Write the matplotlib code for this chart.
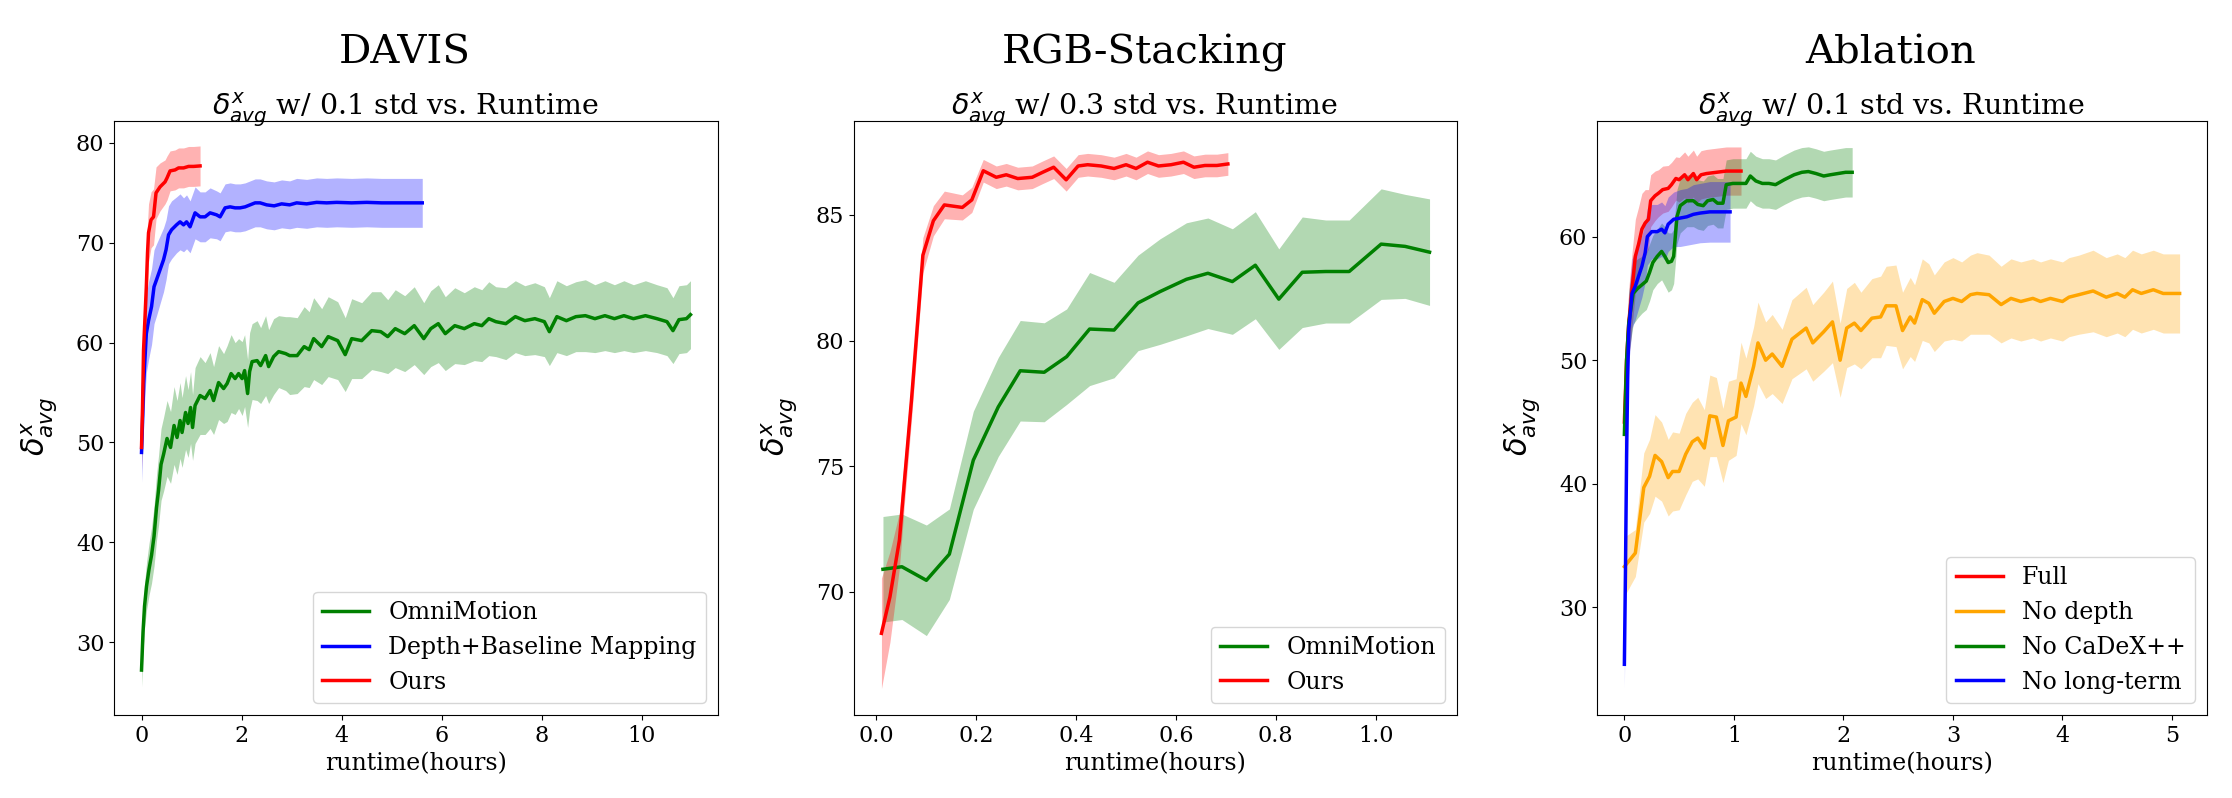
import matplotlib
matplotlib.use("Agg")
import matplotlib.pyplot as plt
import numpy as np

plt.rcParams['font.family'] = ['DejaVu Serif', 'DejaVu Sans']

# ---------------- DAVIS ----------------
davis_omni_x = [0.00, 0.03, 0.06, 0.10, 0.15, 0.20, 0.25, 0.30, 0.34, 0.39, 0.44, 0.51, 0.58, 0.65, 0.71,
                0.77, 0.81, 0.88, 0.93, 0.98, 1.02, 1.07, 1.17, 1.27, 1.37, 1.44, 1.54, 1.64, 1.71, 1.79,
                1.87, 1.94, 2.01, 2.06, 2.12, 2.16, 2.21, 2.31, 2.38, 2.48, 2.54, 2.64, 2.74, 2.88, 2.96,
                3.11, 3.25, 3.35, 3.44, 3.60, 3.73, 3.92, 4.07, 4.20, 4.40, 4.60, 4.78, 4.92, 5.07, 5.26,
                5.45, 5.64, 5.78, 5.93, 6.07, 6.26, 6.45, 6.65, 6.80, 6.94, 7.08, 7.28, 7.47, 7.66, 7.86,
                8.05, 8.15, 8.30, 8.49, 8.68, 8.87, 9.06, 9.26, 9.45, 9.64, 9.83, 10.07, 10.30, 10.50,
                10.62, 10.74, 10.89, 10.97]
davis_omni_y = [27.2, 31.0, 33.6, 35.6, 37.3, 38.7, 40.6, 43.5, 45.2, 47.8, 48.8, 50.4, 49.5, 51.7, 50.5,
                52.2, 51.0, 53.0, 51.9, 53.5, 51.5, 53.7, 54.7, 54.4, 55.2, 54.2, 56.0, 55.4, 55.9, 56.9,
                56.4, 56.9, 56.4, 57.2, 54.9, 57.1, 58.1, 58.2, 57.7, 58.7, 57.6, 58.6, 59.1, 58.9, 58.7,
                58.7, 59.6, 59.3, 60.4, 59.6, 60.6, 60.2, 58.8, 60.4, 60.2, 61.2, 61.1, 60.6, 61.4, 60.9,
                61.7, 60.4, 61.4, 61.9, 60.9, 61.7, 61.4, 61.9, 61.7, 62.4, 62.1, 61.9, 62.6, 62.2, 62.4,
                62.1, 61.1, 62.6, 62.2, 62.6, 62.7, 62.4, 62.7, 62.4, 62.7, 62.4, 62.7, 62.4, 62.1,
                61.2, 62.3, 62.4, 62.8]
davis_omni_s = [1.7, 2.0, 2.2, 2.4, 2.6, 2.8, 3.0, 3.3, 3.5, 3.6, 3.7, 3.8, 3.6, 3.9, 3.7,
                3.8, 3.5, 3.7, 3.4, 3.6, 3.3, 3.8, 3.9, 3.6, 3.8, 3.4, 3.7, 3.5, 3.8, 3.9,
                3.6, 3.5, 3.7, 3.6, 3.4, 3.9, 3.8, 4.0, 3.8, 4.0, 3.7, 3.8, 3.6, 3.7, 3.9,
                3.8, 4.0, 3.8, 4.1, 3.8, 4.0, 3.9, 3.7, 4.0, 3.8, 3.9, 4.0, 3.7, 3.9, 3.8,
                3.9, 3.6, 3.8, 3.9, 3.7, 3.8, 3.6, 3.7, 3.6, 3.7, 3.5, 3.6, 3.6, 3.5, 3.6,
                3.5, 3.4, 3.6, 3.5, 3.5, 3.6, 3.4, 3.5, 3.4, 3.5, 3.4, 3.5, 3.4, 3.4,
                3.3, 3.4, 3.4, 3.4]

davis_base_x = [0.0, 0.02, 0.043, 0.07, 0.096, 0.14, 0.20, 0.25, 0.30, 0.37, 0.44, 0.49, 0.54, 0.60, 0.70,
                0.77, 0.84, 0.90, 0.97, 1.07, 1.17, 1.27, 1.37, 1.50, 1.57, 1.67, 1.77, 1.87, 1.97, 2.07,
                2.17, 2.27, 2.37, 2.50, 2.65, 2.80, 2.96, 3.10, 3.30, 3.50, 3.70, 3.90, 4.20, 4.50, 4.80,
                5.10, 5.40, 5.61]
davis_base_y = [49.0, 52.0, 55.9, 58.5, 60.9, 62.2, 63.6, 65.6, 66.3, 67.3, 68.3, 69.3, 70.8, 71.3, 71.8,
                72.1, 71.8, 72.1, 71.6, 73.0, 72.6, 72.6, 73.0, 72.8, 72.6, 73.5, 73.6, 73.5, 73.5, 73.6,
                73.8, 74.0, 74.0, 73.8, 73.7, 73.9, 73.8, 74.0, 73.9, 74.05, 74.0, 74.05, 74.0, 74.05, 74.0,
                74.0, 74.0, 74.0]
davis_base_s = [3.0, 3.2, 3.5, 3.7, 3.9, 3.9, 3.8, 3.7, 3.6, 3.4, 3.2, 3.0, 2.9, 2.9, 2.8,
                2.8, 2.7, 2.7, 2.6, 2.6, 2.5, 2.5, 2.5, 2.4, 2.4, 2.4, 2.4, 2.4, 2.4, 2.4,
                2.4, 2.4, 2.4, 2.4, 2.4, 2.4, 2.4, 2.45, 2.45, 2.45, 2.45, 2.45, 2.45, 2.45, 2.45,
                2.45, 2.45, 2.45]

davis_ours_x = [0.0, 0.02, 0.04, 0.07, 0.096, 0.12, 0.14, 0.19, 0.24, 0.29, 0.37, 0.47, 0.51, 0.57, 0.67,
                0.74, 0.84, 0.94, 1.04, 1.17]
davis_ours_y = [49.5, 53.5, 59.2, 62.6, 65.6, 69.0, 71.0, 72.3, 72.6, 75.0, 75.6, 76.1, 76.5, 77.2, 77.3,
                77.5, 77.5, 77.65, 77.65, 77.7]
davis_ours_s = [2.2, 2.5, 2.8, 3.0, 3.0, 3.0, 2.9, 2.8, 2.8, 2.6, 2.4, 2.2, 2.2, 2.0, 2.0,
                2.0, 2.0, 2.0, 2.0, 2.0]

# ---------------- RGB-Stacking ----------------
rgb_omni_x = [0.013, 0.051, 0.100, 0.146, 0.194, 0.244, 0.288, 0.336, 0.381, 0.427, 0.476, 0.524,
              0.568, 0.621, 0.664, 0.713, 0.759, 0.806, 0.853, 0.900, 0.947, 1.011, 1.059, 1.108]
rgb_omni_y = [70.9, 71.0, 70.46, 71.5, 75.24, 77.36, 78.8, 78.74, 79.36, 80.46, 80.42, 81.5,
              81.95, 82.44, 82.68, 82.35, 83.0, 81.65, 82.72, 82.75, 82.75, 83.84, 83.75, 83.52]
rgb_omni_s = [2.1, 2.1, 2.2, 1.8, 1.95, 1.97, 2.0, 1.97, 1.9, 2.25, 1.9, 1.9,
              2.1, 2.25, 2.2, 2.1, 2.13, 2.0, 2.2, 2.05, 2.05, 2.2, 2.07, 2.12]

rgb_ours_x = [0.010, 0.027, 0.046, 0.056, 0.070, 0.093, 0.114, 0.136, 0.172, 0.191, 0.214, 0.240,
              0.260, 0.283, 0.312, 0.333, 0.355, 0.380, 0.404, 0.423, 0.450, 0.476, 0.500, 0.520,
              0.543, 0.565, 0.590, 0.615, 0.636, 0.658, 0.682, 0.704]
rgb_ours_y = [68.35, 69.8, 72.06, 74.4, 77.6, 83.4, 84.77, 85.4, 85.3, 85.6, 86.76, 86.5,
              86.6, 86.45, 86.5, 86.7, 86.9, 86.4, 86.95, 87.0, 86.95, 86.85, 87.0, 86.85,
              87.1, 86.95, 87.0, 87.1, 86.9, 86.97, 86.97, 87.03]
rgb_ours_s = [2.2, 1.8, 1.1, 0.9, 0.8, 0.7, 0.6, 0.55, 0.5, 0.5, 0.45, 0.45,
              0.45, 0.45, 0.45, 0.45, 0.45, 0.45, 0.45, 0.45, 0.45, 0.45, 0.45, 0.45,
              0.45, 0.45, 0.45, 0.45, 0.45, 0.45, 0.45, 0.45]

# ---------------- Ablation ----------------
abl_full_x = [0.0, 0.02, 0.04, 0.07, 0.10, 0.13, 0.16, 0.19, 0.22, 0.24, 0.28, 0.31, 0.35, 0.40, 0.43,
              0.47, 0.50, 0.55, 0.58, 0.63, 0.66, 0.70, 0.75, 0.84, 0.93, 1.02, 1.065]
abl_full_y = [45.0, 50.0, 53.0, 55.7, 58.4, 59.4, 60.6, 61.1, 61.4, 62.9, 63.3, 63.5, 63.8, 63.9, 64.2,
              64.7, 64.6, 65.0, 64.6, 65.1, 64.6, 65.0, 65.1, 65.2, 65.3, 65.3, 65.3]
abl_full_s = [2.0, 2.5, 2.8, 3.0, 3.0, 3.0, 2.9, 2.7, 2.4, 2.1, 2.0, 1.9, 1.9, 1.85, 1.8,
              1.75, 1.8, 1.85, 1.9, 1.9, 1.9, 1.95, 1.95, 1.95, 1.95, 1.95, 1.95]

abl_nodepth_x = [0.0, 0.10, 0.177, 0.23, 0.28, 0.34, 0.40, 0.44, 0.50, 0.56, 0.62, 0.67, 0.73, 0.78, 0.84,
                 0.90, 0.95, 1.02, 1.065, 1.11, 1.18, 1.22, 1.29, 1.35, 1.44, 1.53, 1.66, 1.72, 1.82,
                 1.90, 1.97, 2.03, 2.10, 2.16, 2.26, 2.34, 2.39, 2.48, 2.54, 2.61, 2.65, 2.72, 2.78,
                 2.83, 2.92, 3.00, 3.08, 3.16, 3.22, 3.33, 3.44, 3.53, 3.62, 3.73, 3.80, 3.89, 4.00,
                 4.06, 4.15, 4.28, 4.40, 4.50, 4.57, 4.64, 4.72, 4.83, 4.92, 5.07]
abl_nodepth_y = [33.3, 34.4, 39.7, 40.6, 42.3, 41.8, 40.5, 41.0, 41.0, 42.4, 43.4, 43.7, 42.9, 45.5, 45.4,
                 43.1, 45.1, 45.4, 48.15, 47.07, 49.5, 51.4, 50.0, 50.5, 49.5, 51.7, 52.6, 51.4, 52.3,
                 53.1, 50.0, 52.6, 53.0, 52.4, 53.4, 53.5, 54.4, 54.4, 52.4, 53.5, 53.0, 54.9, 54.6,
                 53.8, 54.75, 55.0, 54.75, 55.3, 55.4, 55.3, 54.5, 55.0, 54.75, 55.0, 54.75, 55.0, 54.75,
                 55.1, 55.3, 55.6, 55.1, 55.4, 55.1, 55.7, 55.4, 55.7, 55.4, 55.4]
abl_nodepth_s = [2.4, 1.9, 2.8, 3.0, 3.3, 3.2, 3.1, 3.2, 3.1, 3.3, 3.2, 3.3, 3.1, 3.3, 3.2,
                 3.0, 3.2, 3.1, 3.3, 3.1, 3.2, 3.3, 3.1, 3.2, 3.0, 3.2, 3.3, 3.1, 3.2,
                 3.3, 3.0, 3.2, 3.3, 3.1, 3.2, 3.3, 3.2, 3.3, 3.1, 3.2, 3.1, 3.3, 3.2,
                 3.1, 3.2, 3.3, 3.2, 3.2, 3.3, 3.2, 3.1, 3.2, 3.2, 3.2, 3.2, 3.2, 3.2,
                 3.2, 3.2, 3.3, 3.2, 3.2, 3.2, 3.2, 3.2, 3.2, 3.2, 3.2]

abl_nocadex_x = [0.0, 0.02, 0.04, 0.08, 0.12, 0.16, 0.20, 0.23, 0.26, 0.30, 0.34, 0.37, 0.40, 0.43, 0.45,
                 0.48, 0.51, 0.57, 0.63, 0.67, 0.72, 0.76, 0.81, 0.85, 0.90, 0.93, 0.99, 1.05, 1.11,
                 1.15, 1.20, 1.26, 1.32, 1.38, 1.46, 1.55, 1.62, 1.68, 1.75, 1.82, 1.88, 1.95, 2.02, 2.08]
abl_nocadex_y = [44.0, 50.0, 53.0, 55.4, 55.8, 56.1, 56.4, 57.1, 57.9, 58.4, 58.8, 58.4, 57.9, 58.0, 58.4,
                 61.6, 62.5, 62.9, 62.9, 62.6, 62.5, 62.9, 63.0, 62.7, 62.7, 64.2, 64.3, 64.3, 64.3,
                 64.9, 64.5, 64.3, 64.3, 64.2, 64.6, 65.0, 65.2, 65.26, 65.1, 64.9, 65.0, 65.1, 65.2, 65.2]
abl_nocadex_s = [2.0, 2.3, 2.5, 2.5, 2.4, 2.3, 2.3, 2.3, 2.2, 2.2, 2.3, 2.4, 2.4, 2.3, 2.2,
                 2.2, 2.2, 2.1, 2.1, 2.0, 2.0, 2.0, 2.0, 2.0, 2.0, 2.0, 2.0, 2.0, 2.0,
                 2.0, 2.0, 2.0, 2.0, 2.0, 2.0, 2.0, 2.0, 2.0, 2.0, 2.0, 2.0, 2.0, 2.0, 2.0]

abl_nolong_x = [0.0, 0.01, 0.02, 0.03, 0.04, 0.07, 0.10, 0.13, 0.16, 0.19, 0.21, 0.25, 0.30, 0.34, 0.37,
                0.40, 0.45, 0.51, 0.57, 0.63, 0.69, 0.78, 0.92, 0.965]
abl_nolong_y = [25.4, 33.0, 42.0, 48.5, 52.5, 55.4, 56.0, 56.8, 57.6, 58.7, 60.0, 60.4, 60.4, 60.6, 60.3,
                61.0, 61.4, 61.5, 61.6, 61.8, 61.9, 62.0, 62.0, 62.0]
abl_nolong_s = [1.9, 2.2, 2.5, 2.7, 2.8, 2.8, 2.7, 2.6, 2.5, 2.4, 2.3, 2.2, 2.2, 2.2, 2.2,
                2.2, 2.2, 2.3, 2.3, 2.4, 2.4, 2.45, 2.45, 2.45]

panels = [
    dict(title='DAVIS', sub=r'$\delta^x_{avg}$ w/ 0.1 std vs. Runtime',
         series=[('OmniMotion', 'green', davis_omni_x, davis_omni_y, davis_omni_s),
                 ('Depth+Baseline Mapping', 'blue', davis_base_x, davis_base_y, davis_base_s),
                 ('Ours', 'red', davis_ours_x, davis_ours_y, davis_ours_s)],
         xlim=(-0.55, 11.52), ylim=(22.7, 82.2), xticks=[0, 2, 4, 6, 8, 10], yticks=[30, 40, 50, 60, 70, 80],
         xtl=None, rect=(114, 604)),
    dict(title='RGB-Stacking', sub=r'$\delta^x_{avg}$ w/ 0.3 std vs. Runtime',
         series=[('OmniMotion', 'green', rgb_omni_x, rgb_omni_y, rgb_omni_s),
                 ('Ours', 'red', rgb_ours_x, rgb_ours_y, rgb_ours_s)],
         xlim=(-0.045, 1.163), ylim=(65.1, 88.74), xticks=[0.0, 0.2, 0.4, 0.6, 0.8, 1.0], yticks=[70, 75, 80, 85],
         xtl=['0.0', '0.2', '0.4', '0.6', '0.8', '1.0'], rect=(854, 603)),
    dict(title='Ablation', sub=r'$\delta^x_{avg}$ w/ 0.1 std vs. Runtime',
         series=[('Full', 'red', abl_full_x, abl_full_y, abl_full_s),
                 ('No depth', 'orange', abl_nodepth_x, abl_nodepth_y, abl_nodepth_s),
                 ('No CaDeX++', 'green', abl_nocadex_x, abl_nocadex_y, abl_nocadex_s),
                 ('No long-term', 'blue', abl_nolong_x, abl_nolong_y, abl_nolong_s)],
         xlim=(-0.25, 5.32), ylim=(21.3, 69.35), xticks=[0, 1, 2, 3, 4, 5], yticks=[30, 40, 50, 60],
         xtl=None, rect=(1597, 610)),
]

W, H = 2232, 798
fig = plt.figure(figsize=(W / 100, H / 100), dpi=100)

for p in panels:
    left, width = p['rect']
    ax = fig.add_axes([left / W, 83 / H, width / W, 594 / H])
    for name, col, x, y, s in p['series']:
        x = np.asarray(x); y = np.asarray(y); s = np.asarray(s)
        ax.plot(x, y, color=col, lw=2.5, label=name)
        ax.fill_between(x, y - s, y + s, color=col, alpha=0.3, lw=0)
    ax.set_xlim(*p['xlim'])
    ax.set_ylim(*p['ylim'])
    ax.set_xticks(p['xticks'])
    if p['xtl']:
        ax.set_xticklabels(p['xtl'])
    ax.set_yticks(p['yticks'])
    ax.tick_params(labelsize=16)
    ax.set_xlabel('runtime(hours)', fontsize=17)
    ax.set_ylabel(r'$\delta^x_{avg}$', fontsize=22)
    ax.yaxis.set_label_coords(-54 / width, 0.486)
    cx = 0.5 - 11 / width
    ax.text(cx, 1.096, p['title'], transform=ax.transAxes, ha='center', va='baseline', fontsize=29)
    ax.text(cx, 1.0101, p['sub'], transform=ax.transAxes, ha='center', va='baseline', fontsize=20.5)
    ax.legend(loc='lower right', fontsize=17)

fig.savefig('out.png', dpi=100)
